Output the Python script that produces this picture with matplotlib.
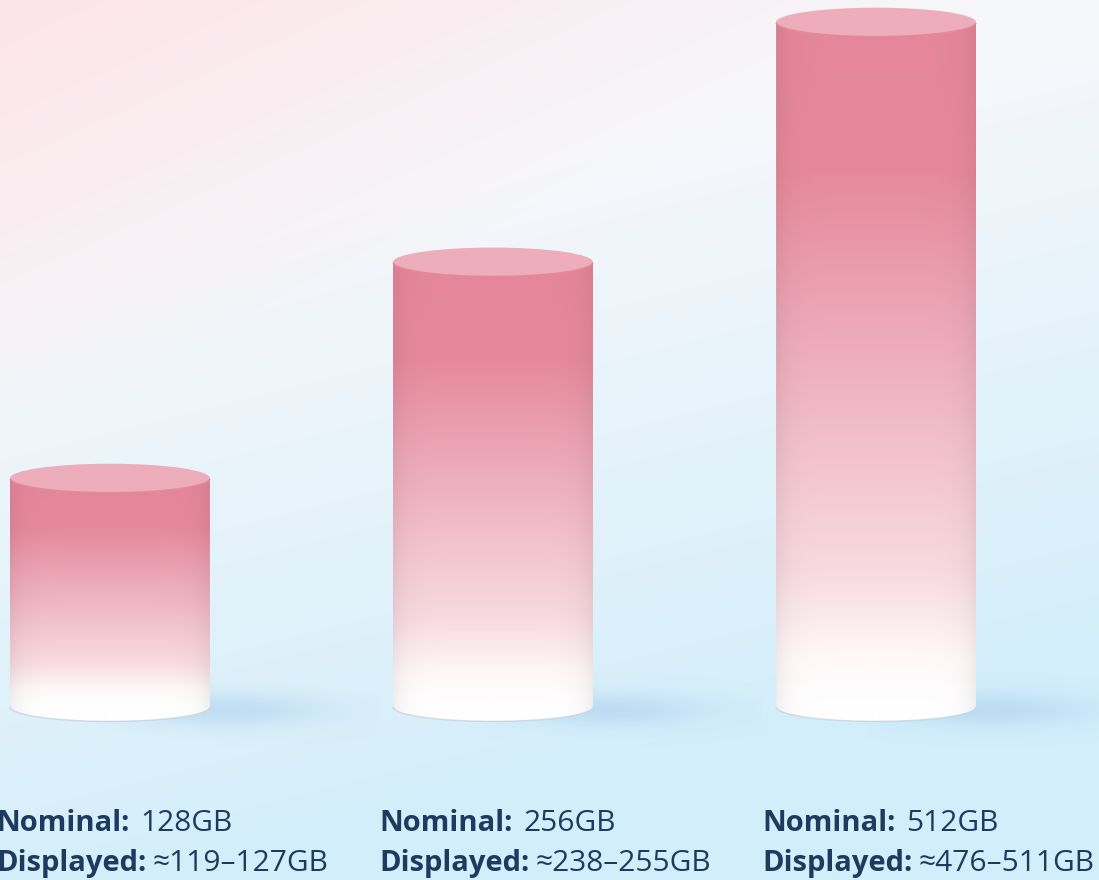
import numpy as np
import matplotlib
matplotlib.use("Agg")
import matplotlib.pyplot as plt
from matplotlib.colors import to_rgb
from matplotlib.path import Path
from matplotlib.patches import PathPatch, Ellipse

# ---------------- data ----------------
nominal_gb = [128, 256, 512]
nominal_labels = ["128GB", "256GB", "512GB"]
displayed_labels = ["\u2248119\u2013127GB", "\u2248238\u2013255GB", "\u2248476\u2013511GB"]
positions = [0, 1, 2]

W, H = 1099, 880
plt.rcParams['font.family'] = ['Open Sans', 'DejaVu Sans']

fig = plt.figure(figsize=(W / 100, H / 100), dpi=100)

# ---------------- background ----------------
bg = fig.add_axes([0, 0, 1, 1])
yy, xx = np.mgrid[0:H, 0:W].astype(float)
base = np.array(to_rgb("#f6f7fa"))
pink = np.array(to_rgb("#fde4e9"))
blue = np.array(to_rgb("#d2eefb"))
p = np.clip(1 - (xx * 0.45 + yy) / 450.0, 0, 1)[..., None]
b = np.clip((yy - 300 + 0.25 * xx) / 640.0, 0, 1)[..., None]
img = base * (1 - p) + pink * p
img = img * (1 - b) + blue * b
bg.imshow(img, extent=[0, W, H, 0], aspect='auto', interpolation='bilinear')
bg.set_xlim(0, W)
bg.set_ylim(H, 0)
bg.axis('off')

# ---------------- data axes (power scale) ----------------
POW = 0.15
ax = fig.add_axes([0, 0, 1, 1])
ax.set_yscale('function', functions=(lambda v: np.power(np.maximum(v, 1e-9), POW),
                                     lambda t: np.power(np.maximum(t, 1e-9), 1 / POW)))
ax.set_ylim(28.05, 544.0)
ax.set_xlim(-0.287, 2.582)
ax.patch.set_alpha(0)
ax.axis('off')
baseline_val = 56.3
bar_w = 0.522

# pixel overlay axes
px = fig.add_axes([0, 0, 1, 1])
px.set_xlim(0, W)
px.set_ylim(H, 0)
px.patch.set_alpha(0)
px.axis('off')


def to_px(x, y):
    d = ax.transData.transform((x, y))
    return d[0], H - d[1]


stops = [0.0, 0.22, 0.5, 0.8, 0.93, 1.0]
stop_cols = np.array([to_rgb(c) for c in
                      ["#e5869a", "#e6899c", "#eeb0bd", "#f8d9df", "#fff8f9", "#ffffff"]])

ry = 14.5
for xpos, val in zip(positions, nominal_gb):
    xl, ytop = to_px(xpos - bar_w / 2, val)
    xr, ybot = to_px(xpos + bar_w / 2, baseline_val)
    cx = (xl + xr) / 2
    rx = (xr - xl) / 2

    # shadow
    sh_h, sh_w = 120, 280
    sy, sx = np.mgrid[0:sh_h, 0:sh_w].astype(float)
    scx, scy = sh_w * 0.45, sh_h * 0.52
    a = 0.5 * np.exp(-((sx - scx) / 95.0) ** 2 - ((sy - scy) / 17.0) ** 2)
    sh = np.zeros((sh_h, sh_w, 4))
    sh[..., :3] = to_rgb("#a6cbec")
    sh[..., 3] = a
    px.imshow(sh, extent=[xr - 110, xr - 110 + sh_w, ybot - 60 + sh_h, ybot - 60],
              aspect='auto', interpolation='bilinear', zorder=1)

    # body gradient
    hgt = int(ybot + ry - ytop) + 2
    fr = np.clip((np.linspace(ytop, ybot + ry, hgt) - ytop) / (ybot - ytop), 0, 1)
    cols = np.stack([np.interp(fr, stops, stop_cols[:, k]) for k in range(3)], axis=-1)
    wn = int(xr - xl)
    u = np.linspace(-1, 1, wn)
    shade = 1 - 0.06 * np.abs(u) ** 8
    grad = np.clip(cols[:, None, :] * shade[None, :, None], 0, 1)
    im = px.imshow(grad, extent=[xl, xr, ybot + ry, ytop], aspect='auto',
                   interpolation='bilinear', zorder=2)
    verts = [(xl, ytop), (xl, ybot)]
    verts += [(cx - rx * np.cos(tt), ybot + ry * np.sin(tt)) for tt in np.linspace(0, np.pi, 80)]
    verts += [(xr, ytop), (xl, ytop)]
    codes = [Path.MOVETO] + [Path.LINETO] * (len(verts) - 2) + [Path.CLOSEPOLY]
    body = PathPatch(Path(verts, codes), transform=px.transData, facecolor='none', edgecolor='none')
    px.add_patch(body)
    im.set_clip_path(body)

    # bottom rim line
    tt = np.linspace(0.05, np.pi - 0.05, 80)
    px.plot(cx - rx * np.cos(tt), ybot + ry * np.sin(tt), color="#c5d3e0", lw=1.0, alpha=0.8, zorder=3)

    # top ellipse
    px.add_patch(Ellipse((cx, ytop), 2 * rx, 2 * ry, facecolor="#eeadba", edgecolor='none', zorder=4))
    tt = np.linspace(0.1, np.pi - 0.1, 80)
    px.plot(cx - rx * np.cos(tt), ytop + ry * np.sin(tt), color="#e3899c", lw=1.2, alpha=0.9, zorder=5)

# ---------------- labels ----------------
txt_col = "#1e3a5f"
fs_b = 21
fs_r = 21.5
renderer = fig.canvas.get_renderer()
for xpos, nl, dl in zip(positions, nominal_labels, displayed_labels):
    xl, _ = to_px(xpos - bar_w / 2, baseline_val)
    tx = xl - 14
    for lab, val, yb, gap in [("Nominal:", nl, 831, 11), ("Displayed:", dl, 871, 6)]:
        t1 = px.text(tx, yb, lab, fontsize=fs_b, fontweight='bold', color=txt_col,
                     va='baseline', ha='left', zorder=6)
        bb = t1.get_window_extent(renderer=renderer)
        px.text(tx + bb.width + gap, yb, val, fontsize=fs_r, color=txt_col,
                va='baseline', ha='left', zorder=6)

fig.savefig("out.png", dpi=100)
